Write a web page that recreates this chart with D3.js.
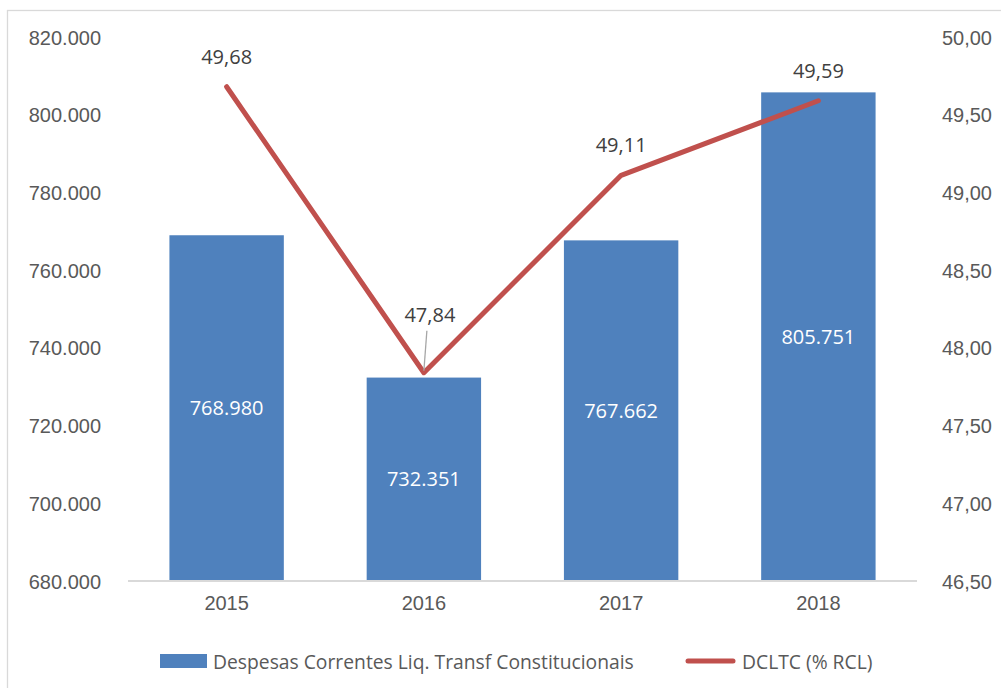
<!DOCTYPE html>
<html>
<head>
<meta charset="utf-8">
<script src="https://cdn.jsdelivr.net/npm/d3@7"></script>
<style>
  html, body { margin: 0; padding: 0; background: #fff; }
  svg { display: block; font-family: "Open Sans", "Liberation Sans", sans-serif; }
</style>
</head>
<body>
<svg id="chart" width="1001" height="688"></svg>
<script>
// Years on the category axis
const years = ["2015", "2016", "2017", "2018"];
// Despesas Correntes Líquidas de Transferências Constitucionais (R$ mil)
const despesas = [768980, 732351, 767662, 805751];
// DCLTC como % da RCL
const dcltc = [49.68, 47.84, 49.11, 49.59];
// Axis ticks
const leftTicks = [680000, 700000, 720000, 740000, 760000, 780000, 800000, 820000];
const rightTicks = [46.5, 47.0, 47.5, 48.0, 48.5, 49.0, 49.5, 50.0];
const legendLabels = ["Despesas Correntes Liq. Transf Constitucionais", "DCLTC (% RCL)"];

const svg = d3.select("#chart");
const BLUE = "#4F81BD", RED = "#C0504D", TEXT = "#595959", GRID = "#D9D9D9";
const NUM_SIZE = "20px", LEG_SIZE = "19.3px";

const plot = { left: 128, right: 917, top: 37, bottom: 581 };

const x = d3.scaleBand().domain(years).range([plot.left, plot.right]).paddingInner(0.42).paddingOuter(0.21);
const xc = d => x(d) + x.bandwidth() / 2;
const yL = d3.scaleLinear().domain([680000, 820000]).range([plot.bottom, plot.top]);
const yR = d3.scaleLinear().domain([46.5, 50]).range([plot.bottom, plot.top]);

const locale = d3.formatLocale({ decimal: ",", thousands: ".", grouping: [3] });
const fmtThousands = locale.format(",.0f");
const fmtComma = locale.format(".2f");

// chart frame
svg.append("rect").attr("x", 7.5).attr("y", 10.5).attr("width", 1100).attr("height", 800)
  .attr("fill", "none").attr("stroke", GRID).attr("stroke-width", 1.3);

// left axis
const axL = svg.append("g").attr("transform", `translate(${plot.left - 27},0)`)
  .call(d3.axisLeft(yL).tickValues(leftTicks).tickFormat(fmtThousands).tickSize(0).tickPadding(0));
axL.select(".domain").remove();
axL.selectAll("text").attr("fill", TEXT).style("font-size", NUM_SIZE).attr("dy", "0.35em");

// right axis
const axR = svg.append("g").attr("transform", `translate(992,0)`)
  .call(d3.axisLeft(yR).tickValues(rightTicks).tickFormat(fmtComma).tickSize(0).tickPadding(0));
axR.select(".domain").remove();
axR.selectAll("text").attr("fill", TEXT).style("font-size", NUM_SIZE).attr("dy", "0.35em");

// bars
svg.append("g").selectAll("rect").data(despesas).join("rect")
  .attr("x", (d, i) => x(years[i]))
  .attr("y", d => yL(d))
  .attr("width", x.bandwidth())
  .attr("height", d => plot.bottom - yL(d))
  .attr("fill", BLUE);

// baseline
svg.append("line").attr("x1", plot.left).attr("x2", plot.right)
  .attr("y1", plot.bottom).attr("y2", plot.bottom)
  .attr("stroke", GRID).attr("stroke-width", 2);

// bar value labels
svg.append("g").selectAll("text").data(despesas).join("text")
  .attr("x", (d, i) => xc(years[i]))
  .attr("y", d => (yL(d) + plot.bottom) / 2)
  .attr("dy", "0.35em").attr("text-anchor", "middle")
  .attr("fill", "#fff").style("font-size", NUM_SIZE)
  .text(d => fmtThousands(d));

// x axis labels
const axB = svg.append("g").attr("transform", `translate(0,${plot.bottom})`)
  .call(d3.axisBottom(x).tickSize(0).tickPadding(22));
axB.select(".domain").remove();
axB.selectAll("text").attr("fill", TEXT).style("font-size", NUM_SIZE).attr("dy", "0.35em");

// line series
const line = d3.line().x((d, i) => xc(years[i])).y(d => yR(d));
svg.append("path").datum(dcltc).attr("d", line)
  .attr("fill", "none").attr("stroke", RED).attr("stroke-width", 5)
  .attr("stroke-linejoin", "round").attr("stroke-linecap", "round");

// line value labels (2016 label lifted with a leader line)
const labelOffset = [30, 58, 30, 30];
const lbl = svg.append("g");
dcltc.forEach((v, i) => {
  const px = xc(years[i]), py = yR(v);
  const ly = py - labelOffset[i];
  if (labelOffset[i] > 40) {
    lbl.append("line").attr("x1", px + 3).attr("y1", ly + 16).attr("x2", px).attr("y2", py - 2)
      .attr("stroke", "#A6A6A6").attr("stroke-width", 1.3);
  }
  lbl.append("text").attr("x", px + (i === 1 ? 6 : 0)).attr("y", ly)
    .attr("dy", "0.35em").attr("text-anchor", "middle")
    .attr("fill", "#404040").style("font-size", NUM_SIZE)
    .text(fmtComma(v));
});

// legend
const lg = svg.append("g");
lg.append("rect").attr("x", 160).attr("y", 654).attr("width", 47).attr("height", 14).attr("fill", BLUE);
lg.append("text").attr("x", 213).attr("y", 662).attr("dy", "0.35em")
  .attr("fill", TEXT).style("font-size", LEG_SIZE).text(legendLabels[0]);
lg.append("line").attr("x1", 688).attr("x2", 733).attr("y1", 661).attr("y2", 661)
  .attr("stroke", RED).attr("stroke-width", 5).attr("stroke-linecap", "round");
lg.append("text").attr("x", 742).attr("y", 662).attr("dy", "0.35em")
  .attr("fill", TEXT).style("font-size", LEG_SIZE).text(legendLabels[1]);
</script>
</body>
</html>
